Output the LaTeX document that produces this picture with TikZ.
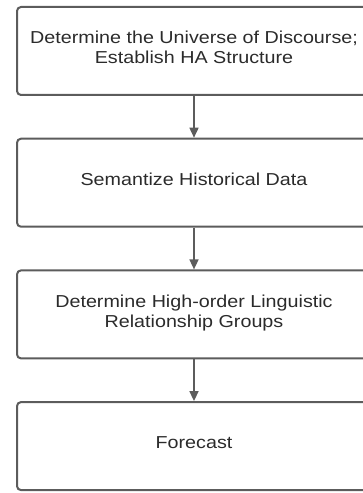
\documentclass[tikz,border=0pt]{standalone}
\usepackage{fontspec}
\setmainfont{Liberation Sans}[FakeStretch=1.14]
\usetikzlibrary{arrows.meta}
\usetikzlibrary{positioning}
\definecolor{boxgray}{HTML}{5C5C5C}
\definecolor{txtgray}{HTML}{2B2B2B}

\begin{document}
\begin{tikzpicture}[x=1pt,y=1pt,->,>={Triangle[width=9pt,length=10pt]}]
		\tikzset{stage/.style = {shape=rectangle,rounded corners=4pt, line width=2pt, draw=boxgray, text=txtgray,
				minimum width=354pt, minimum height=88pt, text depth=7pt, align=center,
				font=\fontsize{17.3}{20}\selectfont}}
		\tikzset{flow/.style = {line width=1.6pt, draw=boxgray, color=boxgray}}
		\path[use as bounding box, clip] (0,0) rectangle (363,493);
		\node[stage] (UOD) at (194,442)
		{Determine the Universe of Discourse; \\ Establish HA Structure};
		\node[stage, below = 41.7pt of UOD] (SEM)
		{Semantize Historical Data};
		\node[stage, below = 41.7pt of SEM] (GROUPS)
		{Determine High-order Linguistic \\ Relationship Groups};
		\node[stage, below = 41.7pt of GROUPS] (FORECAST)
		{Forecast};
		
		\draw[flow] (UOD) -- (SEM);
		\draw[flow] (SEM) -- (GROUPS);
		\draw[flow] (GROUPS) -- (FORECAST);
		
		\end{tikzpicture}
\end{document}
